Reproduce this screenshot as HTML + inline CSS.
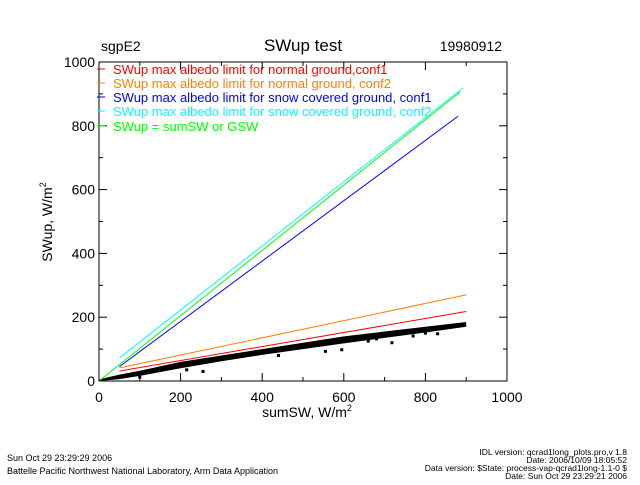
<!DOCTYPE html>
<html><head><meta charset="utf-8"><style>
body{margin:0;background:#fff;}
svg text{font-family:"Liberation Sans",sans-serif;}
</style></head><body>
<svg id="c" width="640" height="480" viewBox="0 0 640 480">
<rect width="640" height="480" fill="#fff"/>
<text x="101" y="51" font-size="14">sgpE2</text>
<text x="303" y="51" font-size="17" text-anchor="middle">SWup test</text>
<text x="502" y="51" font-size="14" text-anchor="end">19980912</text>
<g id="plot"></g>
<text x="307" y="417" font-size="14" text-anchor="middle">sumSW, W/m<tspan dy="-6" font-size="9">2</tspan></text>
<text transform="translate(52,222) rotate(-90)" font-size="14" text-anchor="middle">SWup, W/m<tspan dy="-6" font-size="9">2</tspan></text>
<text x="7" y="461" font-size="9">Sun Oct 29 23:29:29 2006</text>
<text x="7" y="474" font-size="9">Battelle Pacific Northwest National Laboratory, Arm Data Application</text>
<g font-size="8.5" text-anchor="end">
<text x="627" y="455">IDL version: qcrad1long_plots.pro,v 1.8</text>
<text x="627" y="463">Date: 2006/10/09 18:05:52</text>
<text x="627" y="471">Data version: $State: process-vap-qcrad1long-1.1-0 $</text>
<text x="627" y="479">Date: Sun Oct 29 23:29:21 2006</text>
</g>
</svg>
<script>
const xTicks=[0,200,400,600,800,1000];
const yTicks=[0,200,400,600,800,1000];
const seriesNames=["SWup max albedo limit for normal ground,conf1","SWup max albedo limit for normal ground, conf2","SWup max albedo limit for snow covered ground, conf1","SWup max albedo limit for snow covered ground, conf2","SWup = sumSW or GSW"];
const seriesColors=["#ff0000","#ff8000","#0000ff","#00ffff","#00ff00"];
const lineX=[[50,900],[50,900],[50,880],[50,892],[0,885]];
const lineY=[[31,218],[41,270],[45,830],[72,918],[0,906]];
const bandX=[0,50,100,200,300,400,500,600,700,800,900];
const bandUpper=[5,20,32,60,80,100,120,140,155,170,185];
const bandLower=[0,6,16,40,62,82,100,118,135,152,170];
const outX=[100,215,255,440,555,595,660,680,718,770,800,830];
const outY=[12,35,30,80,93,98,125,132,120,141,150,148];
const X0=99,X1=507,Y0=381,Y1=62;
const sx=v=>X0+(v/1000)*(X1-X0);
const sy=v=>Y0-(v/1000)*(Y0-Y1);
const NS="http://www.w3.org/2000/svg";
const g=document.getElementById('plot');
function mk(t,a,p){const e=document.createElementNS(NS,t);for(const k in a)e.setAttribute(k,a[k]);(p||g).appendChild(e);return e;}
// band
let pts=bandX.map((x,i)=>sx(x)+','+sy(bandUpper[i])).concat(bandX.slice().reverse().map((x,i)=>sx(x)+','+sy(bandLower[bandX.length-1-i])));
let band=mk('polygon',{points:pts.join(' '),fill:'#000'});


outX.forEach((x,i)=>{const r=mk('rect',{x:sx(x)-1.5,y:sy(outY[i])-1.5,width:3,height:3,fill:'#000'});

});
// lines
lineX.forEach((xs,i)=>{const l=mk('line',{x1:sx(xs[0]),y1:sy(lineY[i][0]),x2:sx(xs[1]),y2:sy(lineY[i][1]),stroke:seriesColors[i],'stroke-width':1});

});
// axes box
const box=mk('rect',{x:X0,y:Y1,width:X1-X0,height:Y0-Y1,fill:'none',stroke:'#000','stroke-width':1});


for(let v=0;v<=1000;v+=100){const maj=v%200==0,L=maj?8:4;
mk('line',{x1:sx(v),y1:Y0,x2:sx(v),y2:Y0-L,stroke:'#000'});
mk('line',{x1:sx(v),y1:Y1,x2:sx(v),y2:Y1+L,stroke:'#000'});
mk('line',{x1:X0,y1:sy(v),x2:X0+L,y2:sy(v),stroke:'#000'});
mk('line',{x1:X1,y1:sy(v),x2:X1-L,y2:sy(v),stroke:'#000'});}
xTicks.forEach(v=>{const t=mk('text',{x:sx(v),y:Y0+21,'font-size':14,'text-anchor':'middle'});t.textContent=v;

});
yTicks.forEach(v=>{const t=mk('text',{x:X0-4,y:sy(v)+5,'font-size':14,'text-anchor':'end'});t.textContent=v;

});
const legY=[69,83,97,111,126];
seriesNames.forEach((n,i)=>{
const m=mk('line',{x1:97,y1:legY[i],x2:105,y2:legY[i],stroke:seriesColors[i]});


const t=mk('text',{x:113,y:legY[i]+5,'font-size':13,fill:seriesColors[i]});t.textContent=n;

});
</script>
</body></html>
